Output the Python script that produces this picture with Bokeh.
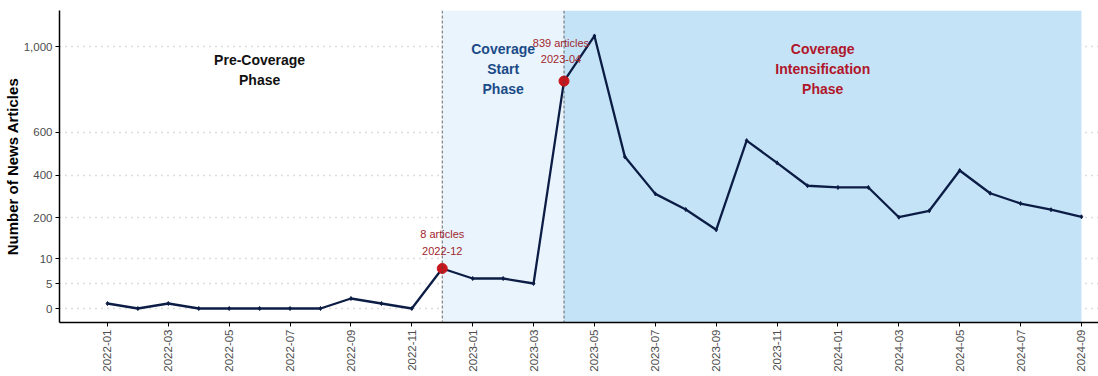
import math
from bokeh.plotting import figure
from bokeh.models import (ColumnDataSource, FixedTicker, CustomJSTickFormatter,
                          BoxAnnotation, Span, Label, Range1d)
from bokeh.embed import file_html
from bokeh.resources import INLINE

# ---- data ----
months = ["2022-01", "2022-02", "2022-03", "2022-04", "2022-05", "2022-06",
          "2022-07", "2022-08", "2022-09", "2022-10", "2022-11", "2022-12",
          "2023-01", "2023-02", "2023-03", "2023-04", "2023-05", "2023-06",
          "2023-07", "2023-08", "2023-09", "2023-10", "2023-11", "2023-12",
          "2024-01", "2024-02", "2024-03", "2024-04", "2024-05", "2024-06",
          "2024-07", "2024-08", "2024-09"]
articles = [1, 0, 1, 0, 0, 0, 0, 0, 2, 1, 0, 8,
            6, 6, 5, 839, 1050, 485, 312, 239, 144, 561, 457, 350,
            342, 342, 203, 233, 421, 315, 267, 238, 205]
highlight_months = ["2022-12", "2023-04"]
highlight_labels = ["8 articles\n2022-12", "839 articles\n2023-04"]
y_tick_values = [0, 5, 10, 200, 400, 600, 1000]
phase_names = ["Pre-Coverage\nPhase", "Coverage\nStart\nPhase",
               "Coverage\nIntensification\nPhase"]

# piecewise (broken) y scale: linear 0-10, compressed above 10
K = 0.0428
def tr(v):
    return v if v <= 10 else 10 + (v - 10) * K

xi = list(range(len(months)))
yt = [tr(v) for v in articles]
src = ColumnDataSource(dict(x=xi, y=yt, m=months, v=articles))

p = figure(width=1098, height=376, output_backend="svg", toolbar_location=None,
           x_range=Range1d(-1.575, 32.56), y_range=Range1d(-2.8, 59.6),
           min_border_left=58, min_border_right=0, min_border_top=10,
           min_border_bottom=54)
p.outline_line_color = None
p.background_fill_color = "white"

i_start = months.index("2022-12")
i_int = months.index("2023-04")
i_end = len(months) - 1

p.add_layout(BoxAnnotation(left=i_start, right=i_int, fill_color="#EAF4FD",
                           fill_alpha=1.0, line_color=None, level="underlay"))
p.add_layout(BoxAnnotation(left=i_int, right=i_end, fill_color="#C5E3F7",
                           fill_alpha=1.0, line_color=None, level="underlay"))

for i in (i_start, i_int):
    p.add_layout(Span(location=i, dimension="height", line_color="#444444",
                      line_dash="3 2", line_width=0.8))

p.line("x", "y", source=src, line_color="#0C1D45", line_width=2.3)
p.scatter("x", "y", source=src, size=4, color="#0C1D45", marker="diamond")

hx = [months.index(m) for m in highlight_months]
hy = [tr(articles[i]) for i in hx]
p.scatter(hx, hy, size=10, color="#C8161D")

# highlight annotations
hl_pos = [(hx[0], hy[0] + 5.2), (hx[1] - 0.1, hy[1] + 6.0)]
for (x, y), t in zip(hl_pos, highlight_labels):
    p.add_layout(Label(x=x, y=y, text=t, text_align="center",
                       text_baseline="middle", text_font="Liberation Sans",
                       text_font_size="11px", text_color="#A0262E",
                       text_line_height=1.35))

phase_x = [5, 13, 23.5]
phase_colors = ["#111111", "#1B4B87", "#B0172B"]
phase_y = [47.8, 48.0, 48.0]
for x, y, t, c in zip(phase_x, phase_y, phase_names, phase_colors):
    p.add_layout(Label(x=x, y=y, text=t, text_align="center",
                       text_baseline="middle", text_font="Liberation Sans",
                       text_font_size="14px", text_font_style="bold",
                       text_color=c, text_line_height=1.25))

# axes
p.yaxis.ticker = FixedTicker(ticks=[tr(v) for v in y_tick_values])
p.yaxis.formatter = CustomJSTickFormatter(args=dict(K=K), code="""
    const v = tick <= 10 ? tick : 10 + (tick - 10) / K;
    return Math.round(v).toLocaleString('en-US');
""")
p.yaxis.axis_label = "Number of News Articles"
p.yaxis.axis_label_text_font = "Liberation Sans"
p.yaxis.axis_label_text_font_style = "bold"
p.yaxis.axis_label_text_font_size = "15px"
p.yaxis.axis_label_text_color = "black"
p.yaxis.axis_label_standoff = 0

p.xaxis.ticker = FixedTicker(ticks=xi[::2])
p.xaxis.major_label_overrides = {i: months[i] for i in xi[::2]}
p.xaxis.major_label_orientation = math.pi / 2

for ax in (p.xaxis, p.yaxis):
    ax.axis_line_color = "black"
    ax.axis_line_width = 1.5
    ax.major_tick_line_color = "black"
    ax.major_tick_in = 0
    ax.major_tick_out = 4
    ax.minor_tick_line_color = None
    ax.major_label_text_font = "Liberation Sans"
    ax.major_label_text_font_size = "11.5px"
    ax.major_label_text_color = "#4D4D4D"
    ax.major_label_standoff = 3

p.xgrid.grid_line_color = None
p.ygrid.grid_line_color = "#BBBBBB"
p.ygrid.grid_line_dash = "1 5"
p.ygrid.grid_line_width = 1.3

open("out.html", "w").write(file_html(p, INLINE))
